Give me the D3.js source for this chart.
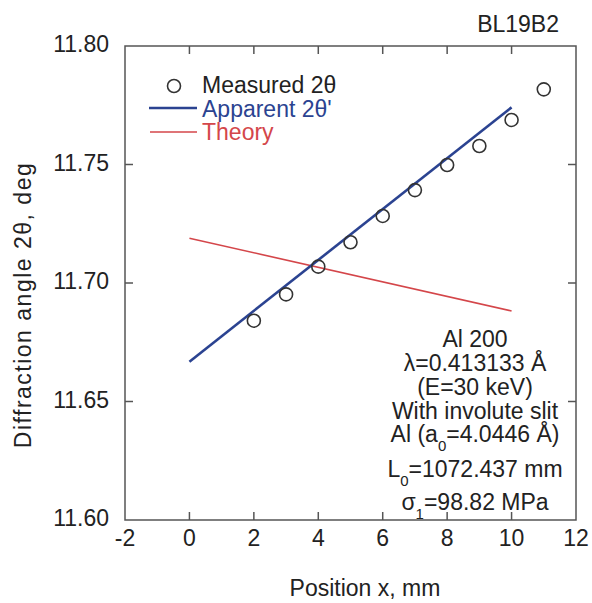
<!DOCTYPE html>
<html>
<head>
<meta charset="utf-8">
<script src="https://cdn.jsdelivr.net/npm/d3@7"></script>
<style>
  body { margin: 0; background: #fff; }
  text { font-family: "Liberation Sans", Arial, Helvetica, sans-serif; fill: #222; }
</style>
</head>
<body>
<div id="chart"></div>
<script>
// values
const positions = [2, 3, 4, 5, 6, 7, 8, 9, 10, 11];
const measured = [11.6841, 11.6952, 11.7069, 11.7172, 11.7283, 11.7392, 11.7498, 11.7578, 11.7688, 11.7817];
const apparentX = [0, 10];
const apparentY = [11.6668, 11.7741];
const theoryX = [0, 10];
const theoryY = [11.7189, 11.6882];
const xTicks = [-2, 0, 2, 4, 6, 8, 10, 12];
const yTicks = [11.60, 11.65, 11.70, 11.75, 11.80];
const noteLines = [
    ["Al 200"],
    ["λ=0.413133 Å"],
    ["(E=30 keV)"],
    ["With involute slit"],
    ["Al (a", "0", "=4.0446 Å)"],
    ["L", "0", "=1072.437 mm"],
    ["σ", "1", "=98.82 MPa"]
];

const W = 592, H = 603;
const plot = { left: 125, right: 576, top: 46, bottom: 520 };
const blue = "#2b4391";
const red = "#d4464a";
const frameColor = "#555";

const x = d3.scaleLinear().domain([-2, 12]).range([plot.left, plot.right]);
const y = d3.scaleLinear().domain([11.60, 11.80]).range([plot.bottom, plot.top]);

const svg = d3.select("#chart")
    .append("svg")
    .attr("width", W)
    .attr("height", H);

// frame
svg.append("rect")
    .attr("x", plot.left)
    .attr("y", plot.top)
    .attr("width", plot.right - plot.left)
    .attr("height", plot.bottom - plot.top)
    .attr("fill", "none")
    .attr("stroke", frameColor)
    .attr("stroke-width", 1.5);

// inward ticks on all four sides
const tickLen = 8;
const innerX = xTicks.slice(1, -1);
const innerY = yTicks.slice(1, -1);
const ticks = svg.append("g").attr("stroke", frameColor).attr("stroke-width", 1.5);
innerX.forEach(t => {
    ticks.append("line").attr("x1", x(t)).attr("x2", x(t)).attr("y1", plot.bottom).attr("y2", plot.bottom - tickLen);
    ticks.append("line").attr("x1", x(t)).attr("x2", x(t)).attr("y1", plot.top).attr("y2", plot.top + tickLen);
});
innerY.forEach(t => {
    ticks.append("line").attr("y1", y(t)).attr("y2", y(t)).attr("x1", plot.left).attr("x2", plot.left + tickLen);
    ticks.append("line").attr("y1", y(t)).attr("y2", y(t)).attr("x1", plot.right).attr("x2", plot.right - tickLen);
});

// tick labels
svg.append("g").selectAll("text")
    .data(xTicks)
    .join("text")
    .attr("x", d => x(d))
    .attr("y", plot.bottom + 26)
    .attr("text-anchor", "middle")
    .style("font-size", "23px")
    .text(d => d);

svg.append("g").selectAll("text")
    .data(yTicks)
    .join("text")
    .attr("x", plot.left - 16)
    .attr("y", d => y(d) + 6)
    .attr("text-anchor", "end")
    .style("font-size", "23px")
    .text(d => d.toFixed(2));

// axis titles
svg.append("text")
    .attr("x", 365)
    .attr("y", 596)
    .attr("text-anchor", "middle")
    .style("font-size", "23px")
    .text("Position x, mm");

svg.append("text")
    .attr("transform", "translate(31,305) rotate(-90)")
    .attr("text-anchor", "middle")
    .style("font-size", "23px")
    .style("letter-spacing", "1.5px")
    .text("Diffraction angle 2θ, deg");

svg.append("text")
    .attr("x", 559)
    .attr("y", 32)
    .attr("text-anchor", "end")
    .style("font-size", "23px")
    .text("BL19B2");

// lines
const line = d3.line().x(d => x(d[0])).y(d => y(d[1]));

svg.append("path")
    .datum(d3.zip(theoryX, theoryY))
    .attr("d", line)
    .attr("fill", "none")
    .attr("stroke", red)
    .attr("stroke-width", 1.6);

svg.append("path")
    .datum(d3.zip(apparentX, apparentY))
    .attr("d", line)
    .attr("fill", "none")
    .attr("stroke", blue)
    .attr("stroke-width", 2.6);

// measured points
svg.append("g").selectAll("circle")
    .data(d3.zip(positions, measured))
    .join("circle")
    .attr("cx", d => x(d[0]))
    .attr("cy", d => y(d[1]))
    .attr("r", 6.5)
    .attr("fill", "none")
    .attr("stroke", "#333")
    .attr("stroke-width", 1.6);

// legend
const legend = svg.append("g");
legend.append("circle")
    .attr("cx", 174).attr("cy", 86).attr("r", 6.5)
    .attr("fill", "none").attr("stroke", "#333").attr("stroke-width", 1.6);
legend.append("text")
    .attr("x", 202).attr("y", 93)
    .style("font-size", "23px")
    .text("Measured 2θ");

legend.append("line")
    .attr("x1", 149).attr("x2", 197).attr("y1", 108).attr("y2", 108)
    .attr("stroke", blue).attr("stroke-width", 2.6);
legend.append("text")
    .attr("x", 202).attr("y", 117)
    .style("font-size", "23px")
    .style("fill", blue)
    .text("Apparent 2θ'");

legend.append("line")
    .attr("x1", 150).attr("x2", 197).attr("y1", 132).attr("y2", 132)
    .attr("stroke", red).attr("stroke-width", 1.6);
legend.append("text")
    .attr("x", 202).attr("y", 140)
    .style("font-size", "23px")
    .style("fill", red)
    .text("Theory");

// annotation block
const noteY = [347, 371, 395, 419, 442, 477, 510];
const notes = svg.append("g")
    .attr("text-anchor", "middle")
    .style("font-size", "23px");
noteLines.forEach((parts, i) => {
    const t = notes.append("text").attr("x", 475).attr("y", noteY[i]);
    if (parts.length === 1) {
        t.text(parts[0]);
    } else {
        t.append("tspan").text(parts[0]);
        t.append("tspan").attr("dy", 9).style("font-size", "15px").text(parts[1]);
        t.append("tspan").attr("dy", -9).text(parts[2]);
    }
});
</script>
</body>
</html>
